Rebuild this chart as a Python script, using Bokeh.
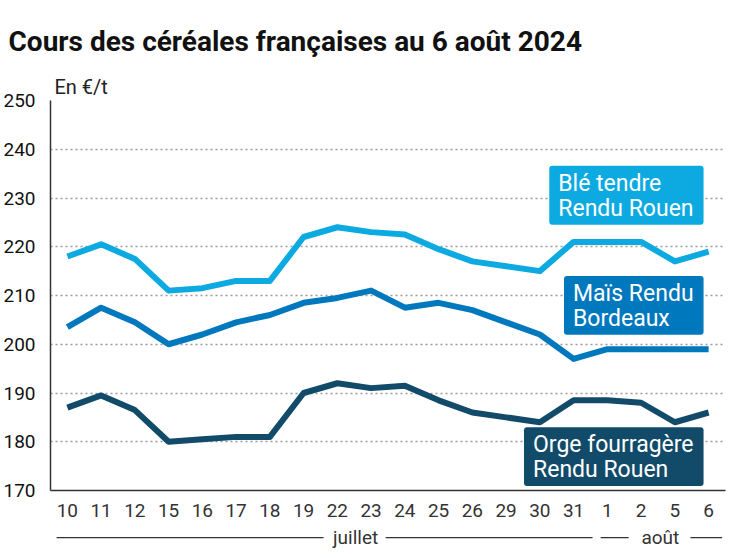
from bokeh.plotting import figure
from bokeh.models import Range1d, FactorRange, FixedTicker, Label
from bokeh.core.properties import value
from bokeh.layouts import column
from bokeh.embed import file_html
from bokeh.resources import INLINE

days = ["10", "11", "12", "15", "16", "17", "18", "19", "22", "23", "24", "25",
        "26", "29", "30", "31", "1", "2", "5", "6"]
ble = [218, 220.5, 217.5, 211, 211.5, 213, 213, 222, 224, 223, 222.5, 219.5,
       217, 216, 215, 221, 221, 221, 217, 219]
mais = [203.5, 207.5, 204.5, 200, 202, 204.5, 206, 208.5, 209.5, 211, 207.5, 208.5,
        207, 204.5, 202, 197, 199, 199, 199, 199]
orge = [187, 189.5, 186.5, 180, 180.5, 181, 181, 190, 192, 191, 191.5, 188.5,
        186, 185, 184, 188.5, 188.5, 188, 184, 186]
y_ticks = [170, 180, 190, 200, 210, 220, 230, 240, 250]

series_names = ["Blé tendre\nRendu Rouen", "Maïs Rendu\nBordeaux", "Orge fourragère\nRendu Rouen"]
series_vals = [ble, mais, orge]
colors = ["#0DAAE2", "#0078BE", "#124B69"]
label_tops = [236.6, 214.0, 183.0]

title_text = "Cours des céréales françaises au 6 août 2024"
unit_text = "En €/t"

months = ["juillet", "août"]
month_text_x = [9.04, 18.07]
month_segments = [(0.18, 8.09), (9.93, 16.06), (16.3, 17.13), (18.96, 19.9)]

FONT = "Roboto"

# --- header strip (title) ---
h = figure(x_range=Range1d(0, 747), y_range=Range1d(70, 0), width=747, height=70,
           output_backend="svg", toolbar_location=None, title_location=None,
           x_axis_location=None, y_axis_location=None,
           min_border_left=0, min_border_right=0, min_border_top=0, min_border_bottom=0)
h.frame_align = False
h.outline_line_color = None
h.grid.visible = False
h.text(x=[8], y=[41], text=[title_text], text_font=value(FONT), text_font_size="28px",
       text_font_style="bold", text_color="#111111", text_baseline="alphabetic")

# --- main chart ---
p = figure(x_range=FactorRange(factors=days), y_range=Range1d(170, 250),
           width=747, height=450, output_backend="svg", toolbar_location=None,
           title=unit_text,
           min_border_left=50, min_border_right=22, min_border_top=29, min_border_bottom=30)
p.frame_align = False
p.outline_line_color = None
p.title.align = "left"
p.title.offset = 4
p.title.standoff = 4
p.title.text_font = FONT
p.title.text_font_size = "20px"
p.title.text_font_style = "normal"
p.title.text_color = "#222222"

p.xgrid.grid_line_color = None
p.ygrid.ticker = FixedTicker(ticks=y_ticks)
p.ygrid.grid_line_color = "#9a9a9a"
p.ygrid.grid_line_dash = "2 3"
p.ygrid.grid_line_width = 1.5

p.yaxis.ticker = FixedTicker(ticks=y_ticks)
for ax in (p.xaxis, p.yaxis):
    ax.axis_line_color = "#333333"
    ax.axis_line_width = 1.5
    ax.major_tick_line_color = None
    ax.minor_tick_line_color = None
    ax.major_label_text_font = FONT
    ax.major_label_text_font_size = "19px"
p.yaxis.major_label_text_color = "#111111"
p.xaxis.major_label_text_color = "#333333"
p.yaxis.major_label_standoff = 9
p.xaxis.major_label_standoff = 7

for vals, col in zip(series_vals, colors):
    p.line(days, vals, line_color=col, line_width=6, line_join="round")

for name, col, top in zip(series_names, colors, label_tops):
    p.add_layout(Label(x=19.35, y=top, text=name, text_align="left",
                       anchor="top_right", text_color="white", text_font=FONT,
                       text_font_size="23px", text_line_height=0.92,
                       background_fill_color=col, padding=(9, 10, 4, 3),
                       border_radius=3))

# --- month strip ---
q = figure(x_range=Range1d(0, 20), y_range=Range1d(0, 1), width=747, height=38,
           output_backend="svg", toolbar_location=None, title_location=None,
           x_axis_location=None, y_axis_location=None,
           min_border_left=50, min_border_right=22, min_border_top=0, min_border_bottom=0)
q.frame_align = False
q.outline_line_color = None
q.grid.visible = False
q.segment(x0=[s[0] for s in month_segments], x1=[s[1] for s in month_segments],
          y0=[0.55] * len(month_segments), y1=[0.55] * len(month_segments),
          line_color="#333333", line_width=1.2)
q.text(x=month_text_x, y=[0.55, 0.55], text=months, text_align="center",
       text_baseline="middle", text_font=value(FONT), text_font_size="19px",
       text_color="#333333")

layout = column(h, p, q, spacing=0)
open("out.html", "w").write(file_html(layout, INLINE))
